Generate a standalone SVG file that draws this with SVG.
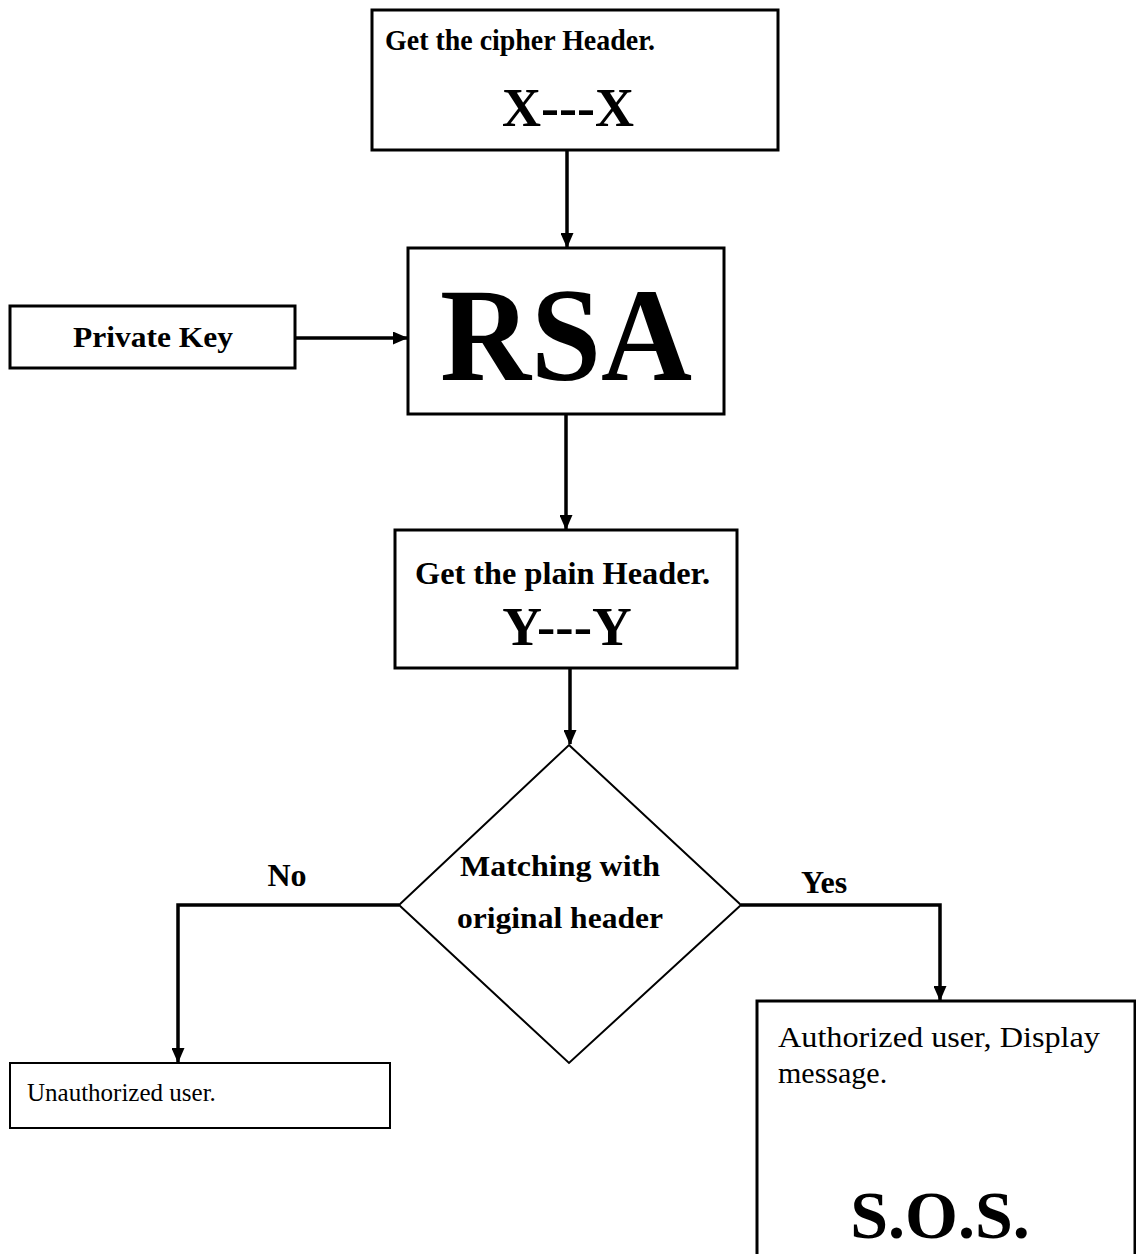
<svg xmlns="http://www.w3.org/2000/svg" width="1136" height="1254" viewBox="0 0 1136 1254">
<style>
.box{fill:#fff;stroke:#000;stroke-width:3}
.thin{fill:#fff;stroke:#000;stroke-width:2}
.t{font-family:"Liberation Serif","Times New Roman",serif;fill:#000}
.b{font-weight:bold}
.con{fill:none;stroke:#000;stroke-width:3.5}
</style>
<defs>
<marker id="ah" markerWidth="15" markerHeight="13" refX="14" refY="6.5" orient="auto" markerUnits="userSpaceOnUse" viewBox="0 0 15 13">
<path d="M0,0 L15,6.5 L0,13 z" fill="#000"/>
</marker>
</defs>
<rect width="1136" height="1254" fill="#fff"/>
<g id="connectors">
<line class="con" x1="567" y1="150" x2="567" y2="247" marker-end="url(#ah)"/>
<line class="con" x1="295" y1="338" x2="407" y2="338" marker-end="url(#ah)"/>
<line class="con" x1="566" y1="414" x2="566" y2="529" marker-end="url(#ah)"/>
<line class="con" x1="570" y1="668" x2="570" y2="744" marker-end="url(#ah)"/>
<polyline class="con" points="399,905 178,905 178,1062" marker-end="url(#ah)"/>
<polyline class="con" points="741,905 940,905 940,1000" marker-end="url(#ah)"/>
</g>
<g id="n-cipher">
<rect class="box" x="372" y="10" width="406" height="140"/>
<text class="t b" x="385" y="50" font-size="29" textLength="270" lengthAdjust="spacingAndGlyphs">Get the cipher Header.</text>
<text class="t b" x="568" y="126" font-size="54" text-anchor="middle">X---X</text>
</g>
<g id="n-rsa">
<rect class="box" x="408" y="248" width="316" height="166"/>
<text class="t b" x="566" y="380" font-size="134" text-anchor="middle" textLength="252" lengthAdjust="spacingAndGlyphs">RSA</text>
</g>
<g id="n-key">
<rect class="box" x="10" y="306" width="285" height="62"/>
<text class="t b" x="153" y="347" font-size="30" text-anchor="middle" textLength="160" lengthAdjust="spacingAndGlyphs">Private Key</text>
</g>
<g id="n-plain">
<rect class="box" x="395" y="530" width="342" height="138"/>
<text class="t b" x="415" y="584" font-size="32" textLength="295" lengthAdjust="spacingAndGlyphs">Get the plain Header.</text>
<text class="t b" x="567" y="645" font-size="55" text-anchor="middle">Y---Y</text>
</g>
<g id="n-match">
<polygon class="thin" points="569,745 741,905 569,1063 399,905"/>
<text class="t b" x="560" y="876" font-size="30" text-anchor="middle" textLength="200" lengthAdjust="spacingAndGlyphs">Matching with</text>
<text class="t b" x="560" y="928" font-size="30" text-anchor="middle" textLength="206" lengthAdjust="spacingAndGlyphs">original header</text>
</g>
<g id="labels">
<text class="t b" x="287" y="886" font-size="32" text-anchor="middle">No</text>
<text class="t b" x="824" y="893" font-size="32" text-anchor="middle">Yes</text>
</g>
<g id="n-unauth">
<rect class="thin" x="10" y="1063" width="380" height="65"/>
<text class="t" x="27" y="1101" font-size="25">Unauthorized user.</text>
</g>
<g id="n-auth">
<rect class="box" x="757" y="1001" width="378" height="262"/>
<text class="t" x="778" y="1047" font-size="30" textLength="322" lengthAdjust="spacingAndGlyphs">Authorized user, Display</text>
<text class="t" x="778" y="1083" font-size="30">message.</text>
<text class="t b" x="940" y="1238" font-size="68" text-anchor="middle">S.O.S.</text>
</g>
</svg>
